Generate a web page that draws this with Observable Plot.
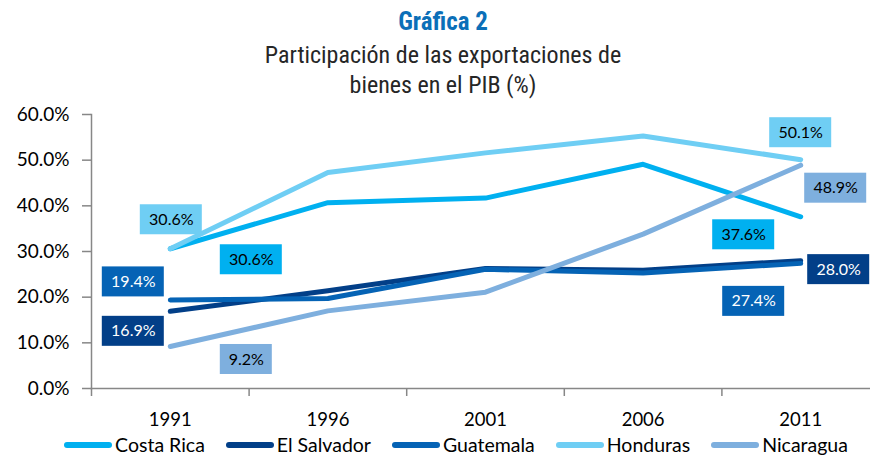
<!DOCTYPE html>
<html><head><meta charset="utf-8">
<script src="https://cdn.jsdelivr.net/npm/d3@7"></script>
<script src="https://cdn.jsdelivr.net/npm/@observablehq/plot@0.6"></script>
<style>
body{margin:0;background:#fff;width:870px;height:459px;overflow:hidden;font-family:Lato,"Noto Sans",sans-serif}
#title{text-align:center;font-family:"Liberation Sans Narrow","Roboto Condensed","DejaVu Sans Condensed",sans-serif;color:#262626;padding-left:16px}
.t1{font-weight:bold;color:#0B6FB8;font-size:25px;line-height:30px;padding-top:7px}
.t2{font-size:24px;line-height:30px;margin-top:3px}
#chart svg{display:block;overflow:visible}
#legend{display:flex;justify-content:center;align-items:center;gap:21px;padding-left:42px;height:29px;font-size:19.5px;color:#000}
#legend .it{display:flex;align-items:center;gap:3px}
#legend .sw{width:48px;height:6px;border-radius:3px}
</style></head><body>
<div id="title"><div class="t1">Gráfica 2</div><div class="t2">Participación de las exportaciones de<br>bienes en el PIB (%)</div></div>
<div id="chart"></div>
<div id="legend"></div>
<script>
const years = [1991, 1996, 2001, 2006, 2011];
const series = ["Costa Rica", "El Salvador", "Guatemala", "Honduras", "Nicaragua"];
const costaRica = [30.6, 40.7, 41.7, 49.1, 37.6];
const elSalvador = [16.9, 21.4, 26.3, 25.9, 28.0];
const guatemala = [19.4, 19.7, 26.1, 25.3, 27.4];
const honduras = [30.6, 47.3, 51.6, 55.3, 50.1];
const nicaragua = [9.2, 17.0, 21.1, 33.8, 48.9];
const yTicks = [0, 10, 20, 30, 40, 50, 60];

const colors = ["#00B0F0", "#023F88", "#0563B5", "#6FCEF4", "#7EAFDE"];
const darkSeries = ["El Salvador", "Guatemala"];
const valuesBySeries = [costaRica, elSalvador, guatemala, honduras, nicaragua];

const data = [];
series.forEach((s, i) => years.forEach((y, j) => data.push({series: s, year: y, value: valuesBySeries[i][j]})));

// which points get labels, with pixel offsets of the label box
const labelSpecs = [
  {series: "Honduras", year: 1991, dx: 1, dy: -29},
  {series: "Costa Rica", year: 1991, dx: 81, dy: 11},
  {series: "Guatemala", year: 1991, dx: -37, dy: -18},
  {series: "El Salvador", year: 1991, dx: -37, dy: 20},
  {series: "Nicaragua", year: 1991, dx: 76, dy: 13},
  {series: "Honduras", year: 2011, dx: 0, dy: -27},
  {series: "Nicaragua", year: 2011, dx: 35, dy: 23},
  {series: "Costa Rica", year: 2011, dx: -57, dy: 18},
  {series: "El Salvador", year: 2011, dx: 38, dy: 9},
  {series: "Guatemala", year: 2011, dx: -47, dy: 38}
];

const bounds = years.map(y => y - 2.5).concat([years[years.length - 1] + 2.5]);
const pct = d => d3.format(".1%")(d / 100);
const gray = "#878787";

const labelMarks = labelSpecs.flatMap(sp => {
  const d = data.find(r => r.series === sp.series && r.year === sp.year);
  const si = series.indexOf(sp.series);
  const txt = pct(d.value);
  const halfW = (10 * txt.length + 12) / 2;
  return [
    Plot.rect([d], {
      x1: "year", x2: "year", y1: "value", y2: "value",
      insetLeft: -halfW, insetRight: -halfW, insetTop: -15, insetBottom: -15,
      dx: sp.dx, dy: sp.dy, fill: colors[si]
    }),
    Plot.text([d], {
      x: "year", y: "value", text: r => pct(r.value),
      dx: sp.dx, dy: sp.dy, fontSize: 16,
      fill: darkSeries.includes(sp.series) ? "#fff" : "#000"
    })
  ];
});

const plot = Plot.plot({
  width: 870,
  height: 330,
  marginTop: 14,
  marginBottom: 42,
  marginLeft: 91,
  marginRight: -9,
  style: {fontFamily: "Lato, 'Noto Sans', sans-serif", background: "#fff"},
  x: {type: "linear", domain: [bounds[0], bounds[bounds.length - 1]]},
  y: {domain: [0, 60]},
  color: {domain: series, range: colors},
  marks: [
    Plot.axisY({ticks: yTicks, tickFormat: pct, tickSize: 9, tickPadding: 13, fontSize: 19, stroke: gray, strokeWidth: 1.5, fill: "#000", label: null}),
    Plot.axisX({ticks: bounds, tickFormat: () => "", tickSize: 8, stroke: gray, strokeWidth: 1.5, label: null}),
    Plot.axisX({ticks: years, tickFormat: d => String(d), tickSize: 0, tickPadding: 24, fontSize: 18.5, fill: "#000", label: null}),
    Plot.frame({anchor: "left", stroke: gray, strokeWidth: 1.5}),
    Plot.frame({anchor: "bottom", stroke: gray, strokeWidth: 1.5}),
    Plot.line(data, {x: "year", y: "value", z: "series", stroke: "series", strokeWidth: 5, strokeLinecap: "round", strokeLinejoin: "round"}),
    ...labelMarks
  ]
});
document.getElementById("chart").appendChild(plot);

const leg = document.getElementById("legend");
series.forEach((s, i) => {
  const it = document.createElement("div");
  it.className = "it";
  it.innerHTML = `<span class="sw" style="background:${colors[i]}"></span><span>${s}</span>`;
  leg.appendChild(it);
});
</script>
</body></html>
